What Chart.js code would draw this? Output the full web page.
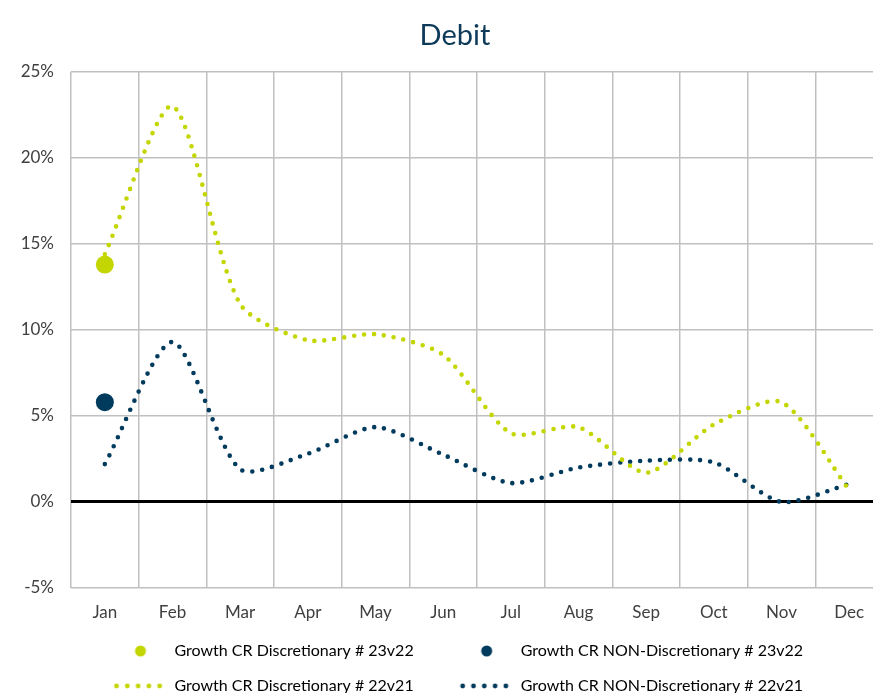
<!DOCTYPE html>
<html>
<head>
<meta charset="utf-8">
<script src="https://cdn.jsdelivr.net/npm/chart.js@4/dist/chart.umd.min.js"></script>
<style>
  html, body { margin: 0; padding: 0; background: #ffffff; overflow: hidden; }
  #wrap { width: 910px; height: 704px; }
</style>
</head>
<body>
<div id="wrap"><canvas id="debitChart" width="910" height="704"></canvas></div>
<script>
// months on the x axis
const months = ['Jan', 'Feb', 'Mar', 'Apr', 'May', 'Jun', 'Jul', 'Aug', 'Sep', 'Oct', 'Nov', 'Dec'];

// growth values in %
const discr23v22 = [13.8, null, null, null, null, null, null, null, null, null, null, null];
const nonDiscr23v22 = [5.8, null, null, null, null, null, null, null, null, null, null, null];
const discr22v21 = [14.4, 23.0, 11.5, 9.4, 9.75, 8.55, 4.0, 4.35, 1.7, 4.5, 5.8, 0.7];
const nonDiscr22v21 = [2.2, 9.3, 1.9, 2.8, 4.35, 2.75, 1.1, 2.0, 2.4, 2.3, 0.0, 1.05];

const seriesLabels = [
    'Growth CR Discretionary # 23v22',
    'Growth CR NON-Discretionary # 23v22',
    'Growth CR Discretionary # 22v21',
    'Growth CR NON-Discretionary # 22v21'
];
const yTicks = [-5, 0, 5, 10, 15, 20, 25];

const green = '#c4d600';
const navy = '#003a5d';
const font = 'Lato, "Open Sans", sans-serif';

// legend symbols drawn on small canvases (blank space on the left acts as item gap)
function legendSymbol(kind, color) {
    var c = document.createElement('canvas');
    c.width = 80;
    c.height = 14;
    var ctx = c.getContext('2d');
    ctx.fillStyle = color;
    if (kind === 'dot') {
        ctx.beginPath();
        ctx.arc(54, 7, 5.5, 0, Math.PI * 2);
        ctx.fill();
    } else {
        for (var i = 0; i < 5; i++) {
            ctx.beginPath();
            ctx.arc(30 + i * 10.8, 7, 2.4, 0, Math.PI * 2);
            ctx.fill();
        }
    }
    return c;
}

const symbols = [
    legendSymbol('dot', green),
    legendSymbol('dot', navy),
    legendSymbol('dots', green),
    legendSymbol('dots', navy)
];

const chart = new Chart('debitChart', {
    type: 'line',
    data: {
        labels: months,
        datasets: [{
            label: seriesLabels[0],
            data: discr23v22,
            showLine: false,
            pointRadius: 9,
            pointHoverRadius: 9,
            backgroundColor: green,
            borderColor: green,
            borderWidth: 0
        }, {
            label: seriesLabels[1],
            data: nonDiscr23v22,
            showLine: false,
            pointRadius: 9,
            pointHoverRadius: 9,
            backgroundColor: navy,
            borderColor: navy,
            borderWidth: 0
        }, {
            label: seriesLabels[2],
            data: discr22v21,
            borderColor: green,
            backgroundColor: green,
            borderWidth: 4.6,
            borderDash: [0, 10],
            borderCapStyle: 'round',
            pointRadius: 0,
            tension: 0.25,
            fill: false
        }, {
            label: seriesLabels[3],
            data: nonDiscr22v21,
            borderColor: navy,
            backgroundColor: navy,
            borderWidth: 4.6,
            borderDash: [0, 10],
            borderCapStyle: 'round',
            pointRadius: 0,
            tension: 0.25,
            fill: false
        }]
    },
    options: {
        responsive: false,
        animation: false,
        layout: { padding: 0 },
        plugins: {
            title: {
                display: true,
                text: 'Debit',
                color: '#0e3a5a',
                font: { family: font, size: 29, weight: 'normal' },
                padding: { top: 18, bottom: 19 }
            },
            legend: {
                position: 'bottom',
                labels: {
                    color: '#404040',
                    font: { family: font, size: 16 },
                    usePointStyle: true,
                    pointStyleWidth: 80,
                    padding: 19,
                    generateLabels: function (ch) {
                        return ch.data.datasets.map(function (ds, i) {
                            // right column gets trailing spaces so the rows sit a bit more to the left
                            var txt = i % 2 === 1 ? ds.label + '     ' : ds.label;
                            return {
                                text: txt,
                                pointStyle: symbols[i],
                                fillStyle: ds.backgroundColor,
                                strokeStyle: ds.borderColor,
                                lineWidth: 0,
                                hidden: false,
                                datasetIndex: i
                            };
                        });
                    }
                }
            },
            tooltip: { enabled: false }
        },
        scales: {
            x: {
                offset: true,
                grid: { offset: true, color: '#c0c0c0', lineWidth: 1.5, drawTicks: false },
                border: { display: false },
                ticks: { color: '#404040', font: { family: font, size: 17 }, padding: 14 },
                afterFit: function (scale) { scale.height = 36; }
            },
            y: {
                min: -5,
                max: 25,
                afterBuildTicks: function (scale) {
                    scale.ticks = yTicks.map(function (v) { return { value: v }; });
                },
                afterFit: function (scale) { scale.width = 71; },
                grid: {
                    drawTicks: false,
                    color: function (c) { return c.tick && c.tick.value === 0 ? '#000000' : '#c0c0c0'; },
                    lineWidth: function (c) { return c.tick && c.tick.value === 0 ? 3 : 1.5; }
                },
                border: { display: false },
                ticks: {
                    color: '#404040',
                    font: { family: font, size: 17 },
                    padding: 17,
                    callback: function (v) { return v + '%'; }
                }
            },
            // empty right axis, only to keep space on the right side
            yRight: {
                position: 'right',
                display: true,
                grid: { display: false },
                border: { display: false },
                ticks: { display: false },
                afterFit: function (scale) { scale.width = 27; }
            }
        }
    }
});
</script>
</body>
</html>
